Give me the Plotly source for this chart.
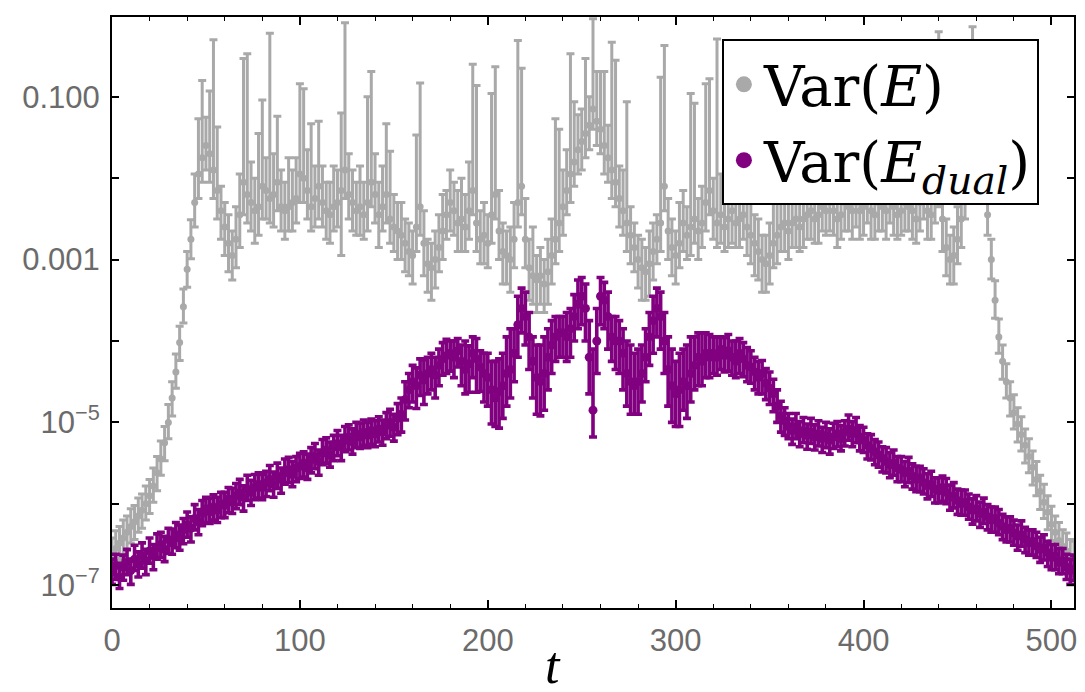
import plotly.graph_objects as go

# time steps (sampled every 2)
t = list(range(0, 513, 2))

# Var(E): log10 of centre value, error extent above / below (decades)
gray_log = [
    -6.62, -6.55, -6.48, -6.42, -6.35, -6.28, -6.22, -6.15, -6.08, -6.00,
    -5.90, -5.78, -5.62, -5.45, -5.25, -5.00, -4.70, -4.38, -4.02, -3.58,
    -3.12, -2.75, -2.30, -1.95, -1.75, -1.60, -1.70, -1.90, -2.15, -2.40,
    -2.60, -2.80, -2.95, -2.75, -2.45, -2.05, -2.20, -2.30, -2.40, -2.35,
    -2.10, -2.15, -2.25, -2.20, -2.05, -2.35, -2.40, -2.35, -2.30, -2.25,
    -1.95, -2.00, -2.15, -2.35, -2.25, -2.10, -2.30, -2.40, -2.45, -2.35,
    -2.30, -2.15, -1.90, -2.20, -2.30, -2.40, -2.35, -2.45, -2.30, -2.05,
    -2.20, -2.45, -2.35, -2.20, -2.50, -2.60, -2.65, -2.70, -2.80, -2.90,
    -2.95, -2.60, -2.35, -2.80, -3.05, -3.10, -3.00, -2.85, -2.65, -2.45,
    -2.30, -2.40, -2.55, -2.50, -2.60, -2.40, -2.15, -2.55, -2.75, -2.70,
    -2.80, -2.45, -2.20, -2.65, -2.90, -2.95, -3.00, -2.75, -2.30, -2.10,
    -2.75, -3.10, -3.20, -3.25, -3.20, -3.30, -3.15, -2.95, -2.75, -2.55,
    -2.35, -2.15, -1.95, -1.80, -1.65, -1.55, -1.45, -1.35, -1.15, -1.30,
    -1.40, -1.60, -1.75, -1.90, -2.05, -2.25, -2.40, -2.55, -2.70, -2.85,
    -3.00, -3.10, -3.15, -3.05, -2.90, -2.75, -2.55, -2.10, -2.65, -2.85,
    -2.95, -2.80, -2.55, -2.70, -2.60, -2.50, -2.65, -2.55, -2.30, -2.15,
    -2.40, -2.55, -2.45, -2.60, -2.50, -2.40, -2.55, -2.50, -2.45, -2.60,
    -2.70, -2.80, -2.90, -3.00, -3.05, -2.95, -2.80, -2.70, -2.60, -2.55,
    -2.65, -2.55, -2.50, -2.60, -2.50, -2.45, -2.40, -2.50, -2.45, -2.35,
    -2.40, -2.30, -2.40, -2.50, -2.45, -2.30, -2.35, -2.40, -2.30, -2.40,
    -2.35, -2.25, -2.40, -2.45, -2.30, -2.35, -2.40, -2.25, -2.35, -2.45,
    -2.40, -2.30, -2.35, -2.40, -2.50, -2.30, -2.20, -2.40, -2.45, -2.20,
    -2.00, -2.50, -2.85, -3.00, -2.95, -2.75, -2.50, -2.20, -1.90, -1.65,
    -1.60, -1.75, -2.00, -2.45, -3.00, -3.50, -3.95, -4.25, -4.50, -4.70,
    -4.88, -5.02, -5.15, -5.28, -5.42, -5.55, -5.70, -5.85, -5.98, -6.10,
    -6.25, -6.35, -6.45, -6.52, -6.58, -6.64, -6.68,
]
gray_up = [
    0.20, 0.22, 0.20, 0.22, 0.20, 0.22, 0.20, 0.22, 0.20, 0.22,
    0.20, 0.22, 0.20, 0.22, 0.20, 0.22, 0.20, 0.22, 0.20, 0.22,
    0.22, 0.24, 0.35, 0.68, 0.95, 0.35, 0.77, 1.60, 0.78, 0.30,
    0.30, 0.35, 0.30, 0.40, 0.50, 1.52, 1.73, 0.50, 0.40, 0.90,
    1.06, 0.40, 2.03, 0.50, 0.81, 0.45, 0.35, 0.60, 0.40, 0.50,
    1.11, 1.10, 0.50, 1.02, 0.40, 0.80, 0.45, 0.35, 0.40, 0.50,
    0.40, 0.95, 1.81, 0.50, 0.40, 0.35, 0.50, 0.40, 1.30, 1.36,
    0.50, 0.40, 0.50, 0.87, 0.83, 0.40, 0.35, 0.40, 0.30, 0.35,
    0.30, 1.13, 1.52, 0.40, 0.30, 0.30, 0.35, 0.40, 0.45, 0.30,
    0.40, 0.35, 0.40, 0.50, 0.40, 0.60, 1.55, 1.69, 0.35, 0.40,
    0.35, 1.49, 1.57, 0.50, 0.35, 0.30, 0.40, 0.45, 1.99, 1.45,
    0.50, 0.35, 0.60, 0.30, 0.35, 0.30, 0.40, 0.45, 1.48, 1.15,
    0.45, 0.50, 1.48, 0.74, 0.43, 0.40, 0.92, 0.35, 1.11, 0.61,
    0.71, 0.91, 0.40, 1.57, 1.50, 0.40, 0.50, 1.49, 0.35, 0.30,
    0.30, 0.35, 0.30, 0.40, 0.35, 0.30, 1.79, 1.73, 0.40, 0.35,
    0.30, 0.50, 0.40, 0.35, 1.64, 1.42, 0.40, 0.45, 1.46, 1.37,
    0.40, 2.26, 0.50, 0.40, 0.60, 0.80, 0.50, 0.40, 0.90, 0.50,
    0.40, 0.35, 0.40, 0.30, 0.35, 0.40, 0.50, 0.60, 0.80, 0.50,
    0.50, 0.60, 0.40, 0.50, 0.90, 0.40, 0.50, 0.70, 0.40, 0.50,
    0.40, 0.60, 0.50, 0.40, 0.80, 0.50, 0.40, 0.50, 0.70, 0.40,
    0.50, 0.40, 0.60, 0.40, 0.90, 0.50, 0.40, 0.60, 0.50, 0.40,
    0.50, 0.60, 0.40, 0.50, 0.40, 0.70, 0.50, 0.40, 0.60, 0.80,
    1.80, 0.50, 0.35, 0.30, 0.35, 0.40, 0.50, 0.60, 0.70, 1.51,
    0.60, 0.50, 0.40, 0.30, 0.25, 0.24, 0.22, 0.20, 0.22, 0.20,
    0.22, 0.20, 0.22, 0.20, 0.22, 0.20, 0.22, 0.20, 0.22, 0.20,
    0.22, 0.20, 0.22, 0.20, 0.22, 0.20, 0.22,
]
gray_dn = [
    0.22, 0.20, 0.22, 0.20, 0.22, 0.20, 0.22, 0.20, 0.22, 0.20,
    0.22, 0.20, 0.22, 0.20, 0.22, 0.20, 0.22, 0.20, 0.22, 0.20,
    0.22, 0.24, 0.30, 0.30, 0.30, 0.30, 0.35, 0.35, 0.35, 0.35,
    0.35, 0.35, 0.30, 0.35, 0.40, 0.40, 0.35, 0.35, 0.40, 0.35,
    0.40, 0.35, 0.30, 0.40, 0.35, 0.30, 0.35, 0.30, 0.35, 0.30,
    0.35, 0.30, 0.35, 0.30, 0.35, 0.40, 0.30, 0.35, 0.35, 0.30,
    0.30, 0.80, 0.35, 0.30, 0.35, 0.30, 0.35, 0.30, 0.35, 0.30,
    0.35, 0.40, 0.30, 0.35, 0.30, 0.30, 0.35, 0.30, 0.35, 0.30,
    0.35, 0.30, 0.35, 0.40, 0.35, 0.40, 0.35, 0.30, 0.35, 0.30,
    0.35, 0.30, 0.35, 0.40, 0.30, 0.35, 0.30, 0.35, 0.30, 0.35,
    0.30, 0.35, 0.30, 0.35, 0.40, 0.35, 0.40, 0.35, 0.30, 0.35,
    0.35, 0.40, 0.35, 0.40, 0.35, 0.35, 0.40, 0.35, 0.30, 0.35,
    0.35, 0.30, 0.35, 0.30, 0.30, 0.35, 0.30, 0.30, 0.25, 0.30,
    0.30, 0.35, 0.30, 0.35, 0.30, 0.35, 0.30, 0.35, 0.35, 0.30,
    0.35, 0.40, 0.35, 0.40, 0.35, 0.30, 0.35, 0.30, 0.35, 0.35,
    0.35, 0.30, 0.35, 0.30, 0.35, 0.30, 0.35, 0.30, 0.35, 0.30,
    0.35, 0.30, 0.35, 0.30, 0.35, 0.40, 0.30, 0.35, 0.30, 0.35,
    0.35, 0.40, 0.35, 0.40, 0.35, 0.35, 0.30, 0.35, 0.30, 0.35,
    0.35, 0.30, 0.35, 0.30, 0.35, 0.30, 0.35, 0.30, 0.35, 0.30,
    0.30, 0.35, 0.30, 0.35, 0.30, 0.35, 0.30, 0.35, 0.30, 0.35,
    0.35, 0.30, 0.35, 0.30, 0.35, 0.30, 0.35, 0.30, 0.35, 0.30,
    0.30, 0.35, 0.30, 0.35, 0.30, 0.35, 0.30, 0.35, 0.30, 0.35,
    0.35, 0.40, 0.35, 0.30, 0.35, 0.30, 0.35, 0.30, 0.35, 0.30,
    0.30, 0.30, 0.30, 0.25, 0.24, 0.22, 0.20, 0.22, 0.20, 0.22,
    0.20, 0.22, 0.20, 0.22, 0.20, 0.22, 0.20, 0.22, 0.20, 0.22,
    0.20, 0.22, 0.20, 0.22, 0.20, 0.22, 0.20,
]

# Var(E_dual): log10 of centre value, error extent above / below (decades)
purple_log = [
    -6.84, -6.76, -6.90, -6.78, -6.72, -6.82, -6.68, -6.74, -6.64, -6.70,
    -6.58, -6.64, -6.54, -6.50, -6.56, -6.44, -6.48, -6.38, -6.42, -6.32,
    -6.26, -6.30, -6.18, -6.22, -6.12, -6.06, -6.10, -6.04, -6.08, -6.00,
    -6.02, -5.94, -5.98, -5.90, -5.86, -5.92, -5.82, -5.86, -5.80, -5.76,
    -5.80, -5.74, -5.70, -5.76, -5.66, -5.70, -5.62, -5.58, -5.64, -5.56,
    -5.54, -5.50, -5.56, -5.46, -5.42, -5.48, -5.38, -5.34, -5.40, -5.30,
    -5.26, -5.30, -5.22, -5.18, -5.24, -5.14, -5.18, -5.12, -5.16, -5.10,
    -5.14, -5.08, -5.12, -5.04, -5.00, -5.06, -4.95, -4.90, -4.72, -4.60,
    -4.50, -4.55, -4.42, -4.48, -4.40, -4.35, -4.42, -4.30, -4.22, -4.18,
    -4.15, -4.20, -4.12, -4.25, -4.35, -4.28, -4.15, -4.22, -4.32, -4.40,
    -4.45, -4.60, -4.70, -4.62, -4.55, -4.40, -4.35, -4.15, -3.80, -3.60,
    -3.70, -3.95, -4.25, -4.45, -4.50, -4.40, -4.20, -4.05, -3.95, -3.90,
    -3.90, -3.95, -3.85, -3.70, -3.55, -3.45, -3.60, -4.20, -4.85, -4.00,
    -3.45, -3.50, -3.70, -3.95, -4.00, -4.00, -4.15, -4.40, -4.50, -4.55,
    -4.50, -4.40, -4.20, -3.95, -3.75, -3.60, -3.70, -4.00, -4.35, -4.55,
    -4.65, -4.60, -4.50, -4.55, -4.40, -4.30, -4.20, -4.25, -4.15, -4.20,
    -4.15, -4.20, -4.10, -4.18, -4.12, -4.20, -4.25, -4.15, -4.22, -4.30,
    -4.32, -4.38, -4.45, -4.40, -4.52, -4.58, -4.65, -4.80, -4.92, -4.98,
    -5.05, -5.10, -5.06, -5.14, -5.10, -5.16, -5.12, -5.18, -5.14, -5.20,
    -5.16, -5.22, -5.18, -5.14, -5.20, -5.12, -5.08, -5.14, -5.10, -5.18,
    -5.22, -5.28, -5.32, -5.36, -5.40, -5.44, -5.48, -5.52, -5.50, -5.56,
    -5.58, -5.62, -5.60, -5.66, -5.70, -5.68, -5.74, -5.78, -5.76, -5.82,
    -5.84, -5.80, -5.86, -5.92, -5.90, -5.96, -6.00, -5.98, -6.04, -6.08,
    -6.06, -6.12, -6.10, -6.16, -6.20, -6.18, -6.24, -6.28, -6.32, -6.30,
    -6.36, -6.40, -6.38, -6.44, -6.48, -6.46, -6.52, -6.56, -6.54, -6.60,
    -6.66, -6.64, -6.72, -6.70, -6.78, -6.82, -6.80,
]
purple_up = [
    0.16, 0.14, 0.17, 0.15, 0.16, 0.14, 0.17, 0.15, 0.16, 0.14,
    0.16, 0.14, 0.17, 0.15, 0.16, 0.14, 0.17, 0.15, 0.16, 0.14,
    0.16, 0.14, 0.17, 0.15, 0.16, 0.14, 0.17, 0.15, 0.16, 0.14,
    0.16, 0.14, 0.17, 0.15, 0.16, 0.14, 0.17, 0.15, 0.16, 0.14,
    0.16, 0.14, 0.17, 0.15, 0.16, 0.14, 0.17, 0.15, 0.16, 0.14,
    0.16, 0.14, 0.17, 0.15, 0.16, 0.14, 0.17, 0.15, 0.16, 0.14,
    0.16, 0.14, 0.17, 0.15, 0.16, 0.14, 0.17, 0.15, 0.16, 0.14,
    0.16, 0.15, 0.15, 0.16, 0.16, 0.16, 0.18, 0.20, 0.22, 0.20,
    0.20, 0.22, 0.20, 0.25, 0.20, 0.20, 0.22, 0.20, 0.20, 0.20,
    0.15, 0.20, 0.15, 0.20, 0.35, 0.22, 0.20, 0.25, 0.20, 0.25,
    0.30, 0.35, 0.45, 0.40, 0.40, 0.45, 0.50, 0.30, 0.35, 0.25,
    0.30, 0.30, 0.30, 0.40, 0.45, 0.45, 0.35, 0.30, 0.25, 0.20,
    0.20, 0.30, 0.25, 0.27, 0.30, 0.23, 0.30, 0.45, 0.75, 0.40,
    0.23, 0.22, 0.30, 0.25, 0.30, 0.25, 0.30, 0.40, 0.45, 0.40,
    0.40, 0.35, 0.35, 0.30, 0.30, 0.25, 0.30, 0.35, 0.40, 0.45,
    0.40, 0.45, 0.40, 0.50, 0.45, 0.35, 0.30, 0.35, 0.25, 0.28,
    0.20, 0.25, 0.15, 0.22, 0.20, 0.20, 0.25, 0.18, 0.20, 0.22,
    0.20, 0.18, 0.20, 0.16, 0.18, 0.20, 0.18, 0.20, 0.18, 0.16,
    0.16, 0.14, 0.17, 0.15, 0.16, 0.14, 0.17, 0.15, 0.16, 0.14,
    0.16, 0.14, 0.17, 0.15, 0.16, 0.14, 0.17, 0.15, 0.16, 0.14,
    0.16, 0.14, 0.17, 0.15, 0.16, 0.14, 0.17, 0.15, 0.16, 0.14,
    0.16, 0.14, 0.17, 0.15, 0.16, 0.14, 0.17, 0.15, 0.16, 0.14,
    0.16, 0.14, 0.17, 0.15, 0.16, 0.14, 0.17, 0.15, 0.16, 0.14,
    0.16, 0.14, 0.17, 0.15, 0.16, 0.14, 0.17, 0.15, 0.16, 0.14,
    0.16, 0.14, 0.17, 0.15, 0.16, 0.14, 0.17, 0.15, 0.16, 0.14,
    0.16, 0.14, 0.17, 0.15, 0.16, 0.14, 0.17,
]
purple_dn = [
    0.15, 0.17, 0.14, 0.16, 0.15, 0.17, 0.14, 0.16, 0.15, 0.17,
    0.15, 0.17, 0.14, 0.16, 0.15, 0.17, 0.14, 0.16, 0.15, 0.17,
    0.15, 0.17, 0.14, 0.16, 0.15, 0.17, 0.14, 0.16, 0.15, 0.17,
    0.15, 0.17, 0.14, 0.16, 0.15, 0.17, 0.14, 0.16, 0.15, 0.17,
    0.15, 0.17, 0.14, 0.16, 0.15, 0.17, 0.14, 0.16, 0.15, 0.17,
    0.15, 0.17, 0.14, 0.16, 0.15, 0.17, 0.14, 0.16, 0.15, 0.17,
    0.15, 0.17, 0.14, 0.16, 0.15, 0.17, 0.14, 0.16, 0.15, 0.17,
    0.16, 0.16, 0.16, 0.16, 0.17, 0.17, 0.20, 0.22, 0.25, 0.22,
    0.25, 0.28, 0.25, 0.30, 0.25, 0.25, 0.28, 0.25, 0.20, 0.22,
    0.22, 0.25, 0.20, 0.30, 0.30, 0.35, 0.30, 0.41, 0.30, 0.35,
    0.35, 0.42, 0.35, 0.45, 0.40, 0.40, 0.35, 0.35, 0.40, 0.30,
    0.35, 0.40, 0.45, 0.45, 0.42, 0.45, 0.40, 0.35, 0.30, 0.30,
    0.30, 0.30, 0.35, 0.30, 0.30, 0.35, 0.40, 0.45, 0.33, 0.40,
    0.35, 0.35, 0.40, 0.30, 0.35, 0.40, 0.45, 0.40, 0.40, 0.35,
    0.40, 0.35, 0.30, 0.35, 0.40, 0.35, 0.40, 0.40, 0.45, 0.45,
    0.40, 0.45, 0.35, 0.40, 0.35, 0.30, 0.35, 0.30, 0.30, 0.25,
    0.25, 0.22, 0.25, 0.20, 0.25, 0.22, 0.20, 0.25, 0.22, 0.20,
    0.20, 0.22, 0.20, 0.25, 0.20, 0.20, 0.22, 0.20, 0.20, 0.18,
    0.15, 0.17, 0.14, 0.16, 0.15, 0.17, 0.14, 0.16, 0.15, 0.17,
    0.15, 0.17, 0.14, 0.16, 0.15, 0.17, 0.14, 0.16, 0.15, 0.17,
    0.15, 0.17, 0.14, 0.16, 0.15, 0.17, 0.14, 0.16, 0.15, 0.17,
    0.15, 0.17, 0.14, 0.16, 0.15, 0.17, 0.14, 0.16, 0.15, 0.17,
    0.15, 0.17, 0.14, 0.16, 0.15, 0.17, 0.14, 0.16, 0.15, 0.17,
    0.15, 0.17, 0.14, 0.16, 0.15, 0.17, 0.14, 0.16, 0.15, 0.17,
    0.15, 0.17, 0.14, 0.16, 0.15, 0.17, 0.14, 0.16, 0.15, 0.17,
    0.15, 0.17, 0.14, 0.16, 0.15, 0.17, 0.14,
]

x_ticks = [0, 100, 200, 300, 400, 500]
y_ticks = [1e-7, 1e-6, 1e-5, 1e-4, 1e-3, 1e-2, 1e-1]
y_ticktext = ["10<sup>\u22127</sup>", "", "10<sup>\u22125</sup>", "", "0.001", "", "0.100"]

GRAY = "#a9a9a9"
PURPLE = "#800080"

for arr in (gray_log, gray_up, gray_dn, purple_log, purple_up, purple_dn):
    assert len(arr) == len(t), len(arr)


def to_linear(c, up, dn):
    y = [10 ** v for v in c]
    ep = [10 ** (v + a) - 10 ** v for v, a in zip(c, up)]
    em = [10 ** v - 10 ** (v - b) for v, b in zip(c, dn)]
    return y, ep, em


gy, gep, gem = to_linear(gray_log, gray_up, gray_dn)
py, pep, pem = to_linear(purple_log, purple_up, purple_dn)

fig = go.Figure()
fig.add_trace(go.Scatter(
    x=t, y=gy, mode="markers", showlegend=False, name="Var(E)",
    marker=dict(color=GRAY, size=7),
    error_y=dict(type="data", symmetric=False, array=gep, arrayminus=gem,
                 color=GRAY, thickness=3.0, width=4),
))
fig.add_trace(go.Scatter(
    x=t, y=py, mode="markers", showlegend=False, name="Var(E_dual)",
    marker=dict(color=PURPLE, size=9),
    error_y=dict(type="data", symmetric=False, array=pep, arrayminus=pem,
                 color=PURPLE, thickness=3.6, width=4),
))
# legend entries
fig.add_trace(go.Scatter(x=[None], y=[None], mode="markers",
                         marker=dict(color=GRAY, size=16),
                         name="Var(<i>E</i>)"))
fig.add_trace(go.Scatter(x=[None], y=[None], mode="markers",
                         marker=dict(color=PURPLE, size=16),
                         name="Var(<i>E</i><sub><i>dual</i></sub>)"))

tick_font = dict(family="Liberation Sans, Arial, sans-serif", size=31, color="#6b6b6b")

# the page body has an 8px margin, so the figure is shrunk by 8px and the
# margins shifted so the plot area lands at the reference position
fig.update_layout(
    width=1077, height=684,
    margin=dict(l=104, r=11, t=7, b=84),
    paper_bgcolor="white", plot_bgcolor="white",
    showlegend=True,
    legend=dict(
        x=0.634, y=0.962, xanchor="left", yanchor="top",
        bgcolor="white", bordercolor="black", borderwidth=2,
        font=dict(family="DejaVu Serif, Liberation Serif, serif", size=56, color="black"),
        itemwidth=30, tracegroupgap=0,
    ),
    xaxis=dict(
        range=[0, 512], tickvals=x_ticks, ticks="inside", ticklen=8, tickwidth=1.5,
        tickcolor="black", showline=True, linecolor="black", linewidth=2,
        mirror="ticks", showgrid=False, zeroline=False, tickfont=tick_font,
        ticklabelstandoff=4,
        minor=dict(dtick=20, tick0=0, ticks="inside", ticklen=4, tickwidth=1.2,
                   tickcolor="black", showgrid=False),
    ),
    yaxis=dict(
        type="log", range=[-7.28, -0.02], tickvals=y_ticks, ticktext=y_ticktext,
        ticks="inside", ticklen=7, tickwidth=1.5, tickcolor="black",
        showline=True, linecolor="black", linewidth=2, mirror="ticks",
        showgrid=False, zeroline=False, tickfont=tick_font, ticklabelstandoff=4,
    ),
    annotations=[dict(
        text="<i>t</i>", x=0.458, y=-0.098, xref="paper", yref="paper",
        xanchor="center", yanchor="middle", showarrow=False,
        font=dict(family="Liberation Serif, DejaVu Serif, serif", size=52, color="black"),
    )],
)

fig.write_html("out.html")
